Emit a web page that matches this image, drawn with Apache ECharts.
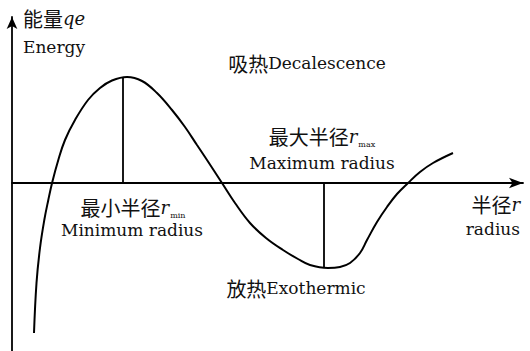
<!DOCTYPE html>
<html>
<head>
<meta charset="utf-8">
<script src="https://cdn.jsdelivr.net/npm/echarts@6/dist/echarts.min.js"></script>
<style>
html,body{margin:0;padding:0;background:#fff;}
#chart{width:530px;height:351px;}
</style>
</head>
<body>
<div id="chart"></div>
<script>
// Radius (x) and energy (y), arbitrary units
const radius = [0.44, 0.49, 0.56, 0.646, 0.726, 0.806, 0.926, 1.06, 1.26, 1.52, 1.76, 2.00, 2.30, 2.60, 2.90, 3.20, 3.46, 3.70, 3.90, 4.20, 4.46, 4.76, 5.08, 5.42, 5.72, 5.96, 6.32, 6.56, 6.76, 6.96, 7.10, 7.30, 7.50, 7.70, 7.92, 8.16, 8.42, 8.82];
const energy = [-3.00, -2.00, -1.30, -0.74, -0.34, 0.02, 0.46, 0.86, 1.26, 1.66, 1.90, 2.05, 2.12, 2.04, 1.80, 1.46, 1.12, 0.76, 0.46, 0.00, -0.40, -0.80, -1.10, -1.34, -1.52, -1.64, -1.70, -1.68, -1.60, -1.40, -1.14, -0.78, -0.48, -0.22, 0.00, 0.22, 0.40, 0.60];
// Vertical markers: [radius, energy at curve]
const rMinMark = [2.22, 2.11];
const rMaxMark = [6.24, -1.70];
// Axis extents
const xRange = [0, 10.22];
const yRange = [-3.36, 3.32];
// Texts
const yTitleCn = '能量', yTitleSym = 'qe', yTitleEn = 'Energy';
const xTitleCn = '半径', xTitleSym = 'r', xTitleEn = 'radius';
const absorbCn = '吸热', absorbEn = 'Decalescence';
const releaseCn = '放热', releaseEn = 'Exothermic';
const minCn = '最小半径', minSub = 'min', minEn = 'Minimum radius';
const maxCn = '最大半径', maxSub = 'max', maxEn = 'Maximum radius';

const CN = '"Noto Sans CJK SC"';
const SERIF = '"DejaVu Serif"';
const rich = {
  cn: {fontFamily: CN, fontSize: 20, color: '#111', lineHeight: 24},
  en: {fontFamily: SERIF, fontSize: 17, color: '#111', lineHeight: 24},
  it: {fontFamily: SERIF, fontSize: 18, fontStyle: 'italic', color: '#111', lineHeight: 24},
  sub: {fontFamily: SERIF, fontSize: 8, color: '#111', lineHeight: 24, verticalAlign: 'bottom', padding: [10, 0, 0, 1]}
};
function txt(x, y, text, align) {
  return {type: 'text', x: x, y: y, style: {text: text, rich: rich, align: align, verticalAlign: 'middle', fill: '#111'}};
}

const chart = echarts.init(document.getElementById('chart'), null, {renderer: 'svg'});
const axisLine = (size) => ({show: true, onZero: true, symbol: ['none', 'arrow'], symbolSize: size, lineStyle: {color: '#000', width: 1.8}});
chart.setOption({
  animation: false,
  backgroundColor: '#fff',
  grid: {left: 12, right: 7, top: 17, bottom: 0, containLabel: false},
  xAxis: {type: 'value', min: xRange[0], max: xRange[1], axisLine: axisLine([8, 14]), axisTick: {show: false}, axisLabel: {show: false}, splitLine: {show: false}},
  yAxis: {type: 'value', min: yRange[0], max: yRange[1], axisLine: axisLine([8, 12]), axisTick: {show: false}, axisLabel: {show: false}, splitLine: {show: false}},
  series: [
    {type: 'line', data: radius.map((r, i) => [r, energy[i]]), smooth: 0.4, showSymbol: false, lineStyle: {color: '#000', width: 2}},
    {type: 'line', data: [[rMinMark[0], 0], rMinMark], showSymbol: false, lineStyle: {color: '#000', width: 1.8}},
    {type: 'line', data: [[rMaxMark[0], 0], rMaxMark], showSymbol: false, lineStyle: {color: '#000', width: 1.8}}
  ],
  graphic: [
    txt(23, 18, '{cn|' + yTitleCn + '}{it|' + yTitleSym + '}', 'left'),
    txt(23, 47, '{en|' + yTitleEn + '}', 'left'),
    txt(307, 63, '{cn|' + absorbCn + '}{en|' + absorbEn + '}', 'center'),
    txt(322, 136, '{cn|' + maxCn + '}{it|' + xTitleSym + '}{sub|' + maxSub + '}', 'center'),
    txt(322, 163, '{en|' + maxEn + '}', 'center'),
    txt(133, 207, '{cn|' + minCn + '}{it|' + xTitleSym + '}{sub|' + minSub + '}', 'center'),
    txt(132, 230, '{en|' + minEn + '}', 'center'),
    txt(296, 288, '{cn|' + releaseCn + '}{en|' + releaseEn + '}', 'center'),
    txt(520, 204, '{cn|' + xTitleCn + '}{it|' + xTitleSym + '}', 'right'),
    txt(520, 229, '{en|' + xTitleEn + '}', 'right')
  ]
});
</script>
</body>
</html>
